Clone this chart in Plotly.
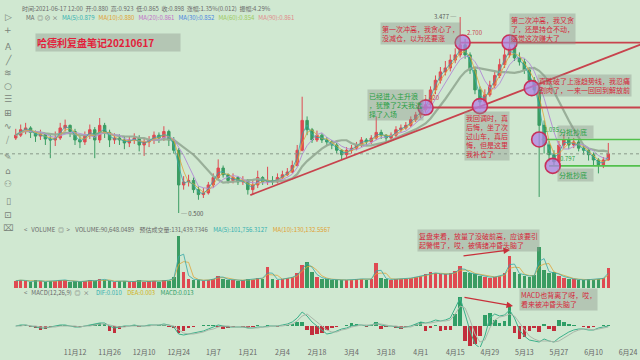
import math
import pandas as pd
import plotly.graph_objects as go

# ---------------- data (2-day candles) ----------------
start_date = "2020-10-19"
first_open = 1.05

close = [
    1.08, 1.14, 1.16, 1.11, 1.07, 1.09, 1.04, 1.03, 1.05, 1.16, 1.19, 1.12,
    1.03, 1.01, 1.08, 1.14, 1.03, 1.19, 1.11, 1.03, 1.05,
    1.03, 1.00, 1.03, 1.05, 0.98, 1.01, 1.03, 1.08, 1.05, 1.12, 1.03,
    0.93, 0.66, 0.68, 0.69, 0.63, 0.60, 0.61, 0.66, 0.71, 0.78, 0.73, 0.69, 0.71, 0.68, 0.69, 0.63,
    0.66, 0.71, 0.68, 0.69, 0.68, 0.71, 0.73, 0.75, 0.80, 0.93, 1.25, 1.14, 1.03, 1.08, 1.03, 1.01, 0.98, 0.93, 0.89, 0.93,
    0.95, 0.98, 1.03, 1.01, 1.05, 1.11, 1.08, 1.05, 1.08, 1.14, 1.16, 1.19, 1.26, 1.32, 1.39, 1.46,
    1.69, 1.86, 2.02, 2.10, 2.27, 2.39, 2.64, 2.39, 2.06, 1.69, 1.50, 1.61, 1.77, 1.95, 2.17, 2.39, 2.56,
    2.32, 2.23, 2.06, 1.86, 1.69, 1.19, 0.98, 0.89, 0.83, 0.98, 1.03, 0.98, 1.01, 0.95, 0.93, 0.89, 0.845, 0.80, 0.845, 0.898,
]
high = [
    1.15, 1.20, 1.22, 1.18, 1.13, 1.14, 1.10, 1.08, 1.12, 1.22, 1.26, 1.20,
    1.15, 1.07, 1.12, 1.20, 1.17, 1.28, 1.22, 1.14, 1.10,
    1.09, 1.07, 1.07, 1.10, 1.08, 1.05, 1.07, 1.12, 1.11, 1.18, 1.14,
    1.06, 0.95, 0.72, 0.73, 0.71, 0.65, 0.64, 0.68, 0.74, 0.85, 0.80, 0.74, 0.74, 0.72, 0.72, 0.70,
    0.69, 0.76, 0.72, 0.79, 0.72, 0.74, 0.76, 0.78, 0.84, 0.98, 1.58, 1.30, 1.16, 1.13, 1.10, 1.06, 1.03, 1.00, 0.94, 0.96,
    0.98, 1.01, 1.06, 1.05, 1.08, 1.30, 1.14, 1.09, 1.11, 1.18, 1.20, 1.23, 1.30, 1.36, 1.44, 1.55,
    1.75, 1.95, 2.12, 2.25, 2.40, 2.55, 3.477, 2.80, 2.45, 2.12, 1.75, 1.70, 1.85, 2.05, 2.30, 2.55, 2.90,
    2.65, 2.45, 2.30, 2.12, 1.92, 1.75, 1.25, 1.02, 0.93, 1.02, 1.09, 1.06, 1.05, 1.03, 0.98, 0.95, 0.91, 0.86, 0.87, 1.00,
]
low = [
    1.03, 1.06, 1.09, 1.05, 1.01, 1.03, 0.98, 0.86, 0.97, 1.03, 1.12, 1.06,
    0.98, 0.95, 0.98, 1.04, 0.86, 1.00, 1.05, 0.96, 0.99,
    0.98, 0.94, 0.96, 0.99, 0.92, 0.88, 0.96, 0.99, 1.00, 1.02, 0.97,
    0.90, 0.50, 0.63, 0.65, 0.61, 0.57, 0.58, 0.60, 0.64, 0.70, 0.71, 0.67, 0.67, 0.66, 0.66, 0.60,
    0.60, 0.64, 0.66, 0.66, 0.66, 0.67, 0.70, 0.72, 0.74, 0.79, 0.92, 1.08, 1.00, 1.01, 1.00, 0.97, 0.94, 0.90, 0.85, 0.87,
    0.90, 0.93, 0.96, 0.97, 0.99, 1.03, 1.04, 1.01, 1.03, 1.06, 1.11, 1.14, 1.17, 1.23, 1.28, 1.35,
    1.42, 1.62, 1.80, 1.95, 2.03, 2.20, 2.33, 2.30, 1.98, 1.62, 1.40, 1.48, 1.58, 1.72, 1.90, 2.10, 2.33,
    2.25, 2.15, 1.98, 1.80, 1.62, 0.586, 0.90, 0.83, 0.797, 0.82, 0.95, 0.94, 0.95, 0.92, 0.89, 0.84, 0.80, 0.74, 0.78, 0.84,
]
volume = [
    14, 16, 13, 12, 15, 13, 12, 14, 13, 16, 15, 12,
    13, 12, 14, 15, 13, 18, 15, 13, 12,
    14, 13, 12, 13, 15, 12, 13, 14, 12, 16, 14,
    22, 100, 30, 18, 16, 15, 14, 16, 18, 24, 18, 15, 16, 14, 15, 17,
    16, 20, 18, 40, 17, 16, 18, 19, 22, 28, 45, 50, 30, 22, 18, 17, 16, 15, 16, 15,
    16, 17, 18, 16, 18, 48, 20, 17, 16, 18, 17, 18, 20, 22, 24, 26,
    30, 28, 27, 26, 28, 32, 42, 30, 28, 26, 24, 22, 20, 22, 24, 28, 62,
    30, 26, 24, 22, 25, 78, 35, 28, 30, 24, 20, 18, 17, 16, 15, 17, 16, 18, 19, 38,
]
macd_hist = [
    0.000, 0.001, 0.001, -0.001, -0.002, -0.004, -0.003, -0.001, 0.000, 0.001, 0.001, 0.000,
    -0.001, -0.001, 0.000, 0.001, 0.002, 0.003, 0.002, -0.005, -0.007,
    -0.003, -0.001, 0.000, 0.001, -0.001, 0.000, 0.001, 0.000, 0.001, 0.001, -0.001,
    -0.002, -0.007, -0.005, -0.002, -0.001, 0.000, 0.001, 0.001, 0.001, -0.001, -0.003, -0.002, -0.001, 0.000, -0.001, -0.002,
    -0.001, 0.001, 0.000, 0.001, 0.000, -0.001, 0.000, 0.001, 0.002, 0.004, 0.004, -0.004, -0.009, -0.008, -0.007, -0.004, -0.002, -0.001, 0.000, 0.001,
    0.003, 0.002, 0.000, -0.001, 0.001, 0.004, -0.003, -0.001, 0.000, -0.002, -0.003, -0.001, 0.000, 0.002, 0.004, -0.005,
    -0.002, 0.001, -0.005, -0.004, -0.004, 0.012, 0.029, -0.015, -0.020, -0.018, -0.010, 0.011, 0.013, 0.006, 0.003, 0.005, 0.020,
    -0.007, -0.013, -0.011, -0.005, -0.002, -0.006, 0.002, -0.003, -0.005, 0.006, 0.004, 0.002, 0.001, 0.000, -0.001, -0.002, -0.001, 0.000, 0.001, 0.001,
]
dif = [
    0.000, 0.001, 0.001, 0.000, -0.001, -0.002, -0.002, -0.001, 0.000, 0.001, 0.001, 0.000,
    -0.001, -0.001, 0.000, 0.001, 0.002, 0.003, 0.003, 0.000, -0.002,
    -0.001, 0.000, 0.000, 0.001, 0.000, 0.000, 0.001, 0.001, 0.001, 0.002, 0.001,
    -0.001, -0.008, -0.009, -0.008, -0.007, -0.006, -0.005, -0.003, -0.001, 0.001, 0.000, -0.001, -0.001, -0.001, -0.001, -0.002,
    -0.002, -0.001, -0.001, 0.000, 0.000, 0.000, 0.001, 0.002, 0.004, 0.008, 0.014, 0.010, 0.004, 0.000, -0.004, -0.008, -0.007, -0.005, -0.003, -0.002,
    0.000, 0.001, 0.001, 0.000, 0.001, 0.003, 0.001, 0.000, 0.000, -0.001, -0.002, -0.001, 0.000, 0.002, 0.004, 0.003,
    0.004, 0.006, 0.005, 0.006, 0.008, 0.018, 0.028, 0.012, -0.005, -0.018, -0.022, -0.010, 0.008, 0.012, 0.010, 0.011, 0.016,
    0.008, -0.004, -0.010, -0.014, -0.015, -0.016, -0.013, -0.015, -0.016, -0.012, -0.009, -0.006, -0.004, -0.003, -0.003, -0.004, -0.004, -0.002, -0.001, 0.000,
]
dea = [
    0.000, 0.000, 0.001, 0.000, 0.000, -0.001, -0.001, -0.001, -0.001, 0.000, 0.000, 0.000,
    0.000, -0.001, 0.000, 0.000, 0.001, 0.002, 0.002, 0.001, 0.000,
    -0.001, -0.001, 0.000, 0.000, 0.000, 0.000, 0.000, 0.001, 0.001, 0.001, 0.001,
    0.000, -0.004, -0.007, -0.008, -0.008, -0.007, -0.006, -0.004, -0.003, -0.001, 0.000, 0.000, -0.001, -0.001, -0.001, -0.001,
    -0.002, -0.002, -0.001, -0.001, 0.000, 0.000, 0.000, 0.001, 0.002, 0.005, 0.010, 0.012, 0.008, 0.004, 0.000, -0.004, -0.006, -0.006, -0.004, -0.003,
    -0.001, 0.000, 0.001, 0.001, 0.001, 0.002, 0.002, 0.001, 0.000, 0.000, -0.001, -0.001, -0.001, 0.001, 0.002, 0.003,
    0.003, 0.004, 0.005, 0.005, 0.006, 0.012, 0.020, 0.018, 0.006, -0.008, -0.016, -0.014, -0.002, 0.006, 0.009, 0.010, 0.012,
    0.010, 0.003, -0.004, -0.010, -0.013, -0.015, -0.015, -0.015, -0.016, -0.015, -0.012, -0.009, -0.006, -0.004, -0.003, -0.003, -0.004, -0.003, -0.002, -0.001,
]

tick_dates = ["2020-11-12", "2020-11-26", "2020-12-10", "2020-12-24", "2021-01-07", "2021-01-21",
              "2021-02-04", "2021-02-18", "2021-03-04", "2021-03-18", "2021-04-01", "2021-04-15",
              "2021-04-29", "2021-05-13", "2021-05-27", "2021-06-10", "2021-06-24"]
tick_labels = ["11月12", "11月26", "12月10", "12月24", "1月7", "1月21", "2月4", "2月18", "3月4",
               "3月18", "4月1", "4月15", "4月29", "5月13", "5月27", "6月10", "6月24"]

# key levels / marks drawn on the price chart
peak_price, peak_date = 3.477, "2021-04-16"
bottom_price, bottom_date = 0.500, "2020-12-24"
red_levels = [2.70, 1.42]
red_level_starts = ["2021-04-17", "2021-04-01"]
green_levels = [1.035, 0.797]
green_level_starts = ["2021-05-20", "2021-05-23"]
trend_dates = ["2021-01-22", "2021-06-30"]
trend_prices = [0.597, 2.67]
circle_dates = ["2021-04-03", "2021-04-18", "2021-04-25", "2021-05-07", "2021-05-16", "2021-05-19", "2021-05-24 12:00"]
circle_prices = [1.42, 2.70, 1.44, 2.70, 1.72, 1.035, 0.797]

# ---------------- styling ----------------
W, H = 640, 360
BG = "#d0e8d1"
UP = "#df4a52"
DOWN = "#3a9c62"
RED_TXT = "#d6263a"
GRN_TXT = "#27a043"
BOX_BG = "rgba(140,150,140,0.42)"
LINE_RED = "#c8434d"
LINE_GRN = "#52c04c"
FONT = "Noto Sans CJK SC"
X_START, X_END = "2020-10-12 14:53", "2021-06-28 20:10"


def px(x):
    return x / W


def py(y):
    return 1 - y / H


dates = pd.date_range(start_date, periods=len(close), freq="2D")
opens = [first_open] + close[:-1]
hi = [max(h, o, c) for h, o, c in zip(high, opens, close)]
lo = [min(l, o, c) for l, o, c in zip(low, opens, close)]
s_close = pd.Series(close)
bar_w = 2 * 86400000 * 0.72

fig = go.Figure()

# moving averages
for win, col, wd in [(10, "rgba(150,172,150,0.95)", 2.2), (5, "#b592d6", 1.0), (3, "#e0a43a", 0.8), (2, "#36a7a7", 0.8)]:
    fig.add_trace(go.Scatter(x=dates, y=s_close.rolling(win, min_periods=1).mean(), mode="lines",
                             line=dict(color=col, width=wd), xaxis="x", yaxis="y", hoverinfo="skip"))

fig.add_trace(go.Candlestick(
    x=dates, open=opens, high=hi, low=lo, close=close,
    increasing=dict(line=dict(color=UP, width=1), fillcolor=UP),
    decreasing=dict(line=dict(color=DOWN, width=1), fillcolor=DOWN),
    whiskerwidth=0, xaxis="x", yaxis="y", hoverinfo="skip"))

# last price dotted line
fig.add_trace(go.Scatter(x=[X_START, X_END], y=[close[-1], close[-1]], mode="lines",
                         line=dict(color="#8a9a8a", width=1, dash="dot"), xaxis="x", yaxis="y", hoverinfo="skip"))

# trend line and levels
fig.add_trace(go.Scatter(x=trend_dates, y=trend_prices, mode="lines", line=dict(color=LINE_RED, width=1.8),
                         xaxis="x", yaxis="y", hoverinfo="skip"))
for lv, st in zip(red_levels, red_level_starts):
    fig.add_trace(go.Scatter(x=[st, "2021-06-30"], y=[lv, lv], mode="lines", line=dict(color=LINE_RED, width=1.8),
                             xaxis="x", yaxis="y", hoverinfo="skip"))
for lv, st in zip(green_levels, green_level_starts):
    fig.add_trace(go.Scatter(x=[st, "2021-06-30"], y=[lv, lv], mode="lines", line=dict(color=LINE_GRN, width=1.6),
                             xaxis="x", yaxis="y", hoverinfo="skip"))

# circles
fig.add_trace(go.Scatter(x=circle_dates, y=circle_prices, mode="markers",
                         marker=dict(size=15, color="rgba(176,130,230,0.75)", line=dict(color="#c8305a", width=1.6)),
                         xaxis="x", yaxis="y", hoverinfo="skip"))

# volume
vcol = [UP if c >= o else DOWN for o, c in zip(opens, close)]
fig.add_trace(go.Bar(x=dates, y=volume, marker=dict(color=vcol, line=dict(width=0)), width=bar_w,
                     xaxis="x2", yaxis="y2", hoverinfo="skip"))
fig.add_trace(go.Scatter(x=dates, y=pd.Series(volume).rolling(3, min_periods=1).mean(), mode="lines",
                         line=dict(color="#e0a43a", width=0.8), xaxis="x2", yaxis="y2", hoverinfo="skip"))
fig.add_trace(go.Scatter(x=dates, y=pd.Series(volume).rolling(2, min_periods=1).mean(), mode="lines",
                         line=dict(color="#36a7a7", width=0.8), xaxis="x2", yaxis="y2", hoverinfo="skip"))

# MACD
mcol = ["#2f9e66" if v >= 0 else "#c22e3c" for v in macd_hist]
fig.add_trace(go.Bar(x=dates, y=macd_hist, marker=dict(color=mcol, line=dict(width=0)), width=bar_w,
                     xaxis="x3", yaxis="y3", hoverinfo="skip"))
fig.add_trace(go.Scatter(x=dates, y=dif, mode="lines", line=dict(color="#3bb08a", width=1),
                         xaxis="x3", yaxis="y3", hoverinfo="skip"))
fig.add_trace(go.Scatter(x=dates, y=dea, mode="lines", line=dict(color="#a9b7a9", width=1),
                         xaxis="x3", yaxis="y3", hoverinfo="skip"))

ann = []


def box(x, y, text, color, size=7):
    ann.append(dict(x=px(x), y=py(y), xref="paper", yref="paper", xanchor="left", yanchor="top",
                    text=text, showarrow=False, align="left", bgcolor=BOX_BG, borderpad=1,
                    font=dict(family=FONT, size=size, color=color)))


def label(x, y, text, color="#666", size=6):
    ann.append(dict(x=px(x), y=py(y), xref="paper", yref="paper", xanchor="left", yanchor="middle",
                    text=text, showarrow=False, align="left", font=dict(family=FONT, size=size, color=color)))


# header rows
label(20, 8, "时间:2021-06-17 12:00  开:0.880  高:0.923  低:0.865  收:0.898  涨幅:1.35%(0.012)  振幅:4.29%", "#6a6a6a", 6)
label(24, 17, "MA  ◎ ⊘ ×   <span style='color:#33b0b0'>MA(5):0.879</span>   <span style='color:#e0a030'>MA(10):0.880</span>"
      "   <span style='color:#c070c8'>MA(20):0.861</span>   <span style='color:#4a86e0'>MA(30):0.852</span>"
      "   <span style='color:#9cc860'>MA(60):0.854</span>   <span style='color:#e08a8a'>MA(90):0.861</span>", "#6a6a6a", 6)
label(22, 230, "<   VOLUME  ◎  >    VOLUME:90,648.0489    预估成交量:131,439.7346    "
      "<span style='color:#33b0b0'>MA(5):101,756.3127</span>    <span style='color:#e0a030'>MA(10):130,132.5567</span>", "#6a6a6a", 6)
label(22, 292, "<   MACD(12,26,9)  ◎  ×     <span style='color:#33b0b0'>DIF:0.010</span>    "
      "<span style='color:#d0b020'>DEA:0.003</span>    <span style='color:#2f9e66'>MACD:0.013</span>", "#6a6a6a", 6)

# title
ann.append(dict(x=px(35), y=py(33), xref="paper", yref="paper", xanchor="left", yanchor="top",
                text="<b>哈德利复盘笔记20210617</b>", showarrow=False, align="left", width=142,
                bgcolor="rgba(140,150,140,0.42)", borderpad=1, font=dict(family=FONT, size=10, color="#e3203a")))

# commentary boxes
box(380, 22, "第一次冲高，我贪心了，<br>没减仓，以为还要涨", RED_TXT)
box(509, 13, "第二次冲高，我又贪<br>了，还是持仓不动，<br>感觉这次赚大了", RED_TXT)
box(367, 89, "已经进入主升浪<br>，犹豫了2天我选<br>择了入场", GRN_TXT)
box(464, 111, "我回调时，真<br>后悔，坐了次<br>过山车，真后<br>悔，但是这里<br>我补仓了", RED_TXT)
box(537, 74, "真跌破了上涨趋势线，我忍痛<br>割肉了，一来一回回到解放前", RED_TXT)
box(557, 125, "分批抄底&nbsp;&nbsp;&nbsp;", GRN_TXT)
box(557, 168, "分批抄底&nbsp;&nbsp;&nbsp;", GRN_TXT)
box(417, 229, "复盘来看，放量了没破前高，应该要引<br>起警惕了，哎，被情绪冲昏头脑了", RED_TXT)
box(519, 288, "MACD也背离了呀，哎，<br>看来被冲昏头脑了", RED_TXT)

# value labels tied to the data
ann.append(dict(x=peak_date, y=math.log10(peak_price), xref="x", yref="y", xanchor="right", yanchor="middle",
                text="3.477 ─", showarrow=False, font=dict(family=FONT, size=6, color="#555")))
ann.append(dict(x=bottom_date, y=math.log10(bottom_price), xref="x", yref="y", xanchor="left", yanchor="middle",
                text="─ 0.500", showarrow=False, font=dict(family=FONT, size=6, color="#555")))
ann.append(dict(x=circle_dates[1], y=math.log10(red_levels[0]), xref="x", yref="y", xanchor="left", yanchor="bottom",
                xshift=2, yshift=4, text="2.700", showarrow=False, font=dict(family=FONT, size=6, color="#c8434d")))
ann.append(dict(x=circle_dates[0], y=math.log10(red_levels[1]), xref="x", yref="y", xanchor="left", yanchor="bottom",
                xshift=-4, yshift=4, text="1.420", showarrow=False, font=dict(family=FONT, size=6, color="#c8434d")))
ann.append(dict(x=circle_dates[5], y=math.log10(green_levels[0]), xref="x", yref="y", xanchor="left", yanchor="bottom",
                xshift=3, yshift=3, text="1.035", showarrow=False, font=dict(family=FONT, size=6, color=GRN_TXT)))
ann.append(dict(x=circle_dates[6], y=math.log10(green_levels[1]), xref="x", yref="y", xanchor="left", yanchor="bottom",
                xshift=5, yshift=1, text="0.797", showarrow=False, font=dict(family=FONT, size=6, color=GRN_TXT)))

# arrows
ann.append(dict(x=px(510), y=py(250), xref="paper", yref="paper", ax=-48, ay=6, axref="pixel", ayref="pixel",
                showarrow=True, arrowhead=2, arrowsize=1, arrowwidth=1.3, arrowcolor="#c8303a", text=""))
ann.append(dict(x=px(513), y=py(306), xref="paper", yref="paper", ax=-50, ay=-9, axref="pixel", ayref="pixel",
                showarrow=True, arrowhead=2, arrowsize=1, arrowwidth=1.3, arrowcolor="#c8303a", text=""))

# toolbar glyphs
for g, y in [("▷", 17), ("+", 30), ("A", 47), ("╱", 60), ("≋", 73), ("○", 86), ("☰", 99), ("⊞", 113),
             ("∿", 126), ("⧸", 140), ("✎", 157), ("⌂", 171), ("⚇", 184), ("▯", 201), ("⊡", 215), ("⌧", 228)]:
    ann.append(dict(x=px(8), y=py(y), xref="paper", yref="paper", xanchor="center", yanchor="middle",
                    text=g, showarrow=False, font=dict(family="DejaVu Sans", size=9, color="#7a847a")))

ax_common = dict(type="date", range=[X_START, X_END], showgrid=False, zeroline=False, showline=False,
                 automargin=False, fixedrange=True)

fig.update_layout(
    template="none", width=W, height=H, margin=dict(l=0, r=0, t=0, b=0),
    paper_bgcolor=BG, plot_bgcolor=BG, showlegend=False, hovermode=False,
    xaxis=dict(ax_common, domain=[0, 1], anchor="y", showticklabels=False, rangeslider=dict(visible=False)),
    xaxis2=dict(ax_common, domain=[0, 1], anchor="y2", matches="x", showticklabels=False),
    xaxis3=dict(ax_common, domain=[0, 1], anchor="y3", matches="x", tickvals=tick_dates, ticktext=tick_labels,
                ticks="", tickfont=dict(family=FONT, size=7, color="#666")),
    yaxis=dict(type="log", range=[-0.3311, 0.5541], domain=[py(220), py(14)], showticklabels=False,
               showgrid=False, zeroline=False, automargin=False),
    yaxis2=dict(range=[0, 100], domain=[py(288), py(236)], showticklabels=False, showgrid=False,
                zeroline=False, automargin=False),
    yaxis3=dict(range=[-0.021, 0.033], domain=[py(347), py(293)], showticklabels=False, showgrid=False,
                zeroline=False, automargin=False),
    annotations=ann,
    bargap=0,
)

fig.write_html("out.html", config={"displayModeBar": False},
               post_script="document.body.style.margin='0';document.body.style.background='" + BG + "';")
